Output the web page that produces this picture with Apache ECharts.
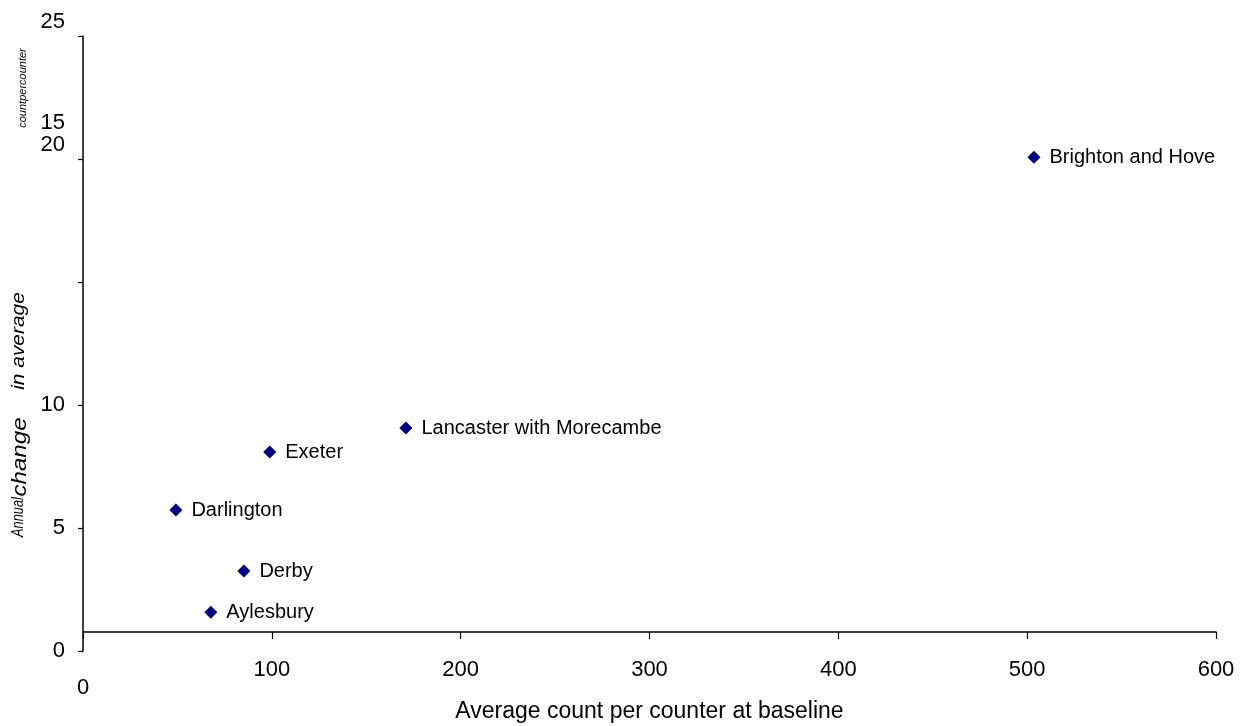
<!DOCTYPE html>
<html lang="en">
<head>
    <meta charset="UTF-8">
    <title>Annual change vs baseline count</title>
    <script src="https://cdn.jsdelivr.net/npm/echarts@6/dist/echarts.min.js"></script>
</head>
<style>
html,body{margin:0;padding:0;background-color:#ffffff}
#chartBox{width:1242px;height:726px}
</style>
<body>
    <div id="chartBox"></div>
</body>
<script>
// data
const towns = ['Aylesbury', 'Derby', 'Darlington', 'Exeter', 'Lancaster with Morecambe', 'Brighton and Hove'];
const baselineCount = [67.7, 85.2, 49.2, 98.9, 171, 503.6];
const annualChange = [1.58, 3.25, 5.73, 8.09, 9.06, 20.07];
const xTicks = [0, 100, 200, 300, 400, 500, 600];
const yTicks = [0, 5, 10, 15, 20, 25];

const FONT = 'Liberation Sans, Arial, sans-serif';

function generateChartOption(){
    return {
        backgroundColor: '#ffffff',
        animation: false,
        grid: {
            left: 83,
            right: 26,
            top: 36,
            bottom: 75,
            outerBoundsMode: 'none'
        },
        xAxis: {
            type: 'value',
            min: xTicks[0],
            max: xTicks[xTicks.length - 1],
            interval: 100,
            offset: -19,
            name: 'Average count per counter at baseline',
            nameLocation: 'middle',
            nameGap: 68,
            nameMoveOverlap: false,
            nameTextStyle: {fontFamily: FONT, fontSize: 23, color: '#000'},
            splitLine: {show: false},
            axisLine: {onZero: false, lineStyle: {color: '#000', width: 1.5}},
            axisTick: {length: 7, lineStyle: {color: '#000', width: 1.2}},
            axisLabel: {
                margin: 27,
                fontFamily: FONT,
                fontSize: 22,
                color: '#000',
                formatter: function (v) {
                    // the zero label sits lower than the rest
                    return v === 0 ? '{gap| }\n{n|0}' : '{n|' + v + '}';
                },
                rich: {
                    n: {fontFamily: FONT, fontSize: 22, color: '#000', lineHeight: 22},
                    gap: {fontSize: 10, lineHeight: 18}
                }
            }
        },
        yAxis: {
            type: 'value',
            min: yTicks[0],
            max: yTicks[yTicks.length - 1],
            interval: 5,
            splitLine: {show: false},
            axisLine: {show: true, lineStyle: {color: '#000', width: 1.5}},
            axisTick: {show: true, length: 5, lineStyle: {color: '#000', width: 1.2}},
            axisLabel: {
                margin: 18,
                fontFamily: FONT,
                fontSize: 22,
                color: '#000',
                formatter: function (v) {
                    if (v === 15) return '';
                    if (v === 20) return '{n|15}\n{n|20}\n{gap|}';
                    if (v === 25) return '{n|25}\n{gap2|}';
                    return '{n|' + v + '}';
                },
                rich: {
                    n: {fontFamily: FONT, fontSize: 22, color: '#000', lineHeight: 22.5, align: 'right'},
                    gap: {fontSize: 10, lineHeight: 50},
                    gap2: {fontSize: 10, lineHeight: 29}
                }
            }
        },
        // broken-up y axis title
        graphic: [
            {type: 'text', x: 19, y: 517, rotation: Math.PI / 2, scaleX: 0.8,
                style: {text: 'Annual', font: 'italic 16px ' + FONT, fill: '#000', align: 'center', verticalAlign: 'middle'}},
            {type: 'text', x: 20, y: 457, rotation: Math.PI / 2, scaleX: 1.15,
                style: {text: 'change', font: 'italic 21px ' + FONT, fill: '#000', align: 'center', verticalAlign: 'middle'}},
            {type: 'text', x: 19, y: 341, rotation: Math.PI / 2, scaleX: 1.1,
                style: {text: 'in average', font: 'italic 19px ' + FONT, fill: '#000', align: 'center', verticalAlign: 'middle'}},
            {type: 'text', x: 23, y: 88, rotation: Math.PI / 2,
                style: {text: 'countpercounter', font: 'italic 11px ' + FONT, fill: '#000', align: 'center', verticalAlign: 'middle'}}
        ],
        series: [
            {
                type: 'scatter',
                symbol: 'diamond',
                symbolSize: 13,
                itemStyle: {
                    color: '#000080',
                    opacity: 1,
                    shadowBlur: 2,
                    shadowColor: 'rgba(230,220,160,0.8)'
                },
                label: {
                    show: true,
                    position: 'right',
                    distance: 9,
                    fontFamily: FONT,
                    fontSize: 20,
                    color: '#000',
                    formatter: function (p) { return p.data[2]; }
                },
                emphasis: {disabled: true},
                data: towns.map((t, i) => [baselineCount[i], annualChange[i], t])
            }
        ]
    };
}

let chartObj = echarts.init(document.getElementById('chartBox'));
chartObj.setOption(generateChartOption());
</script>
</html>
